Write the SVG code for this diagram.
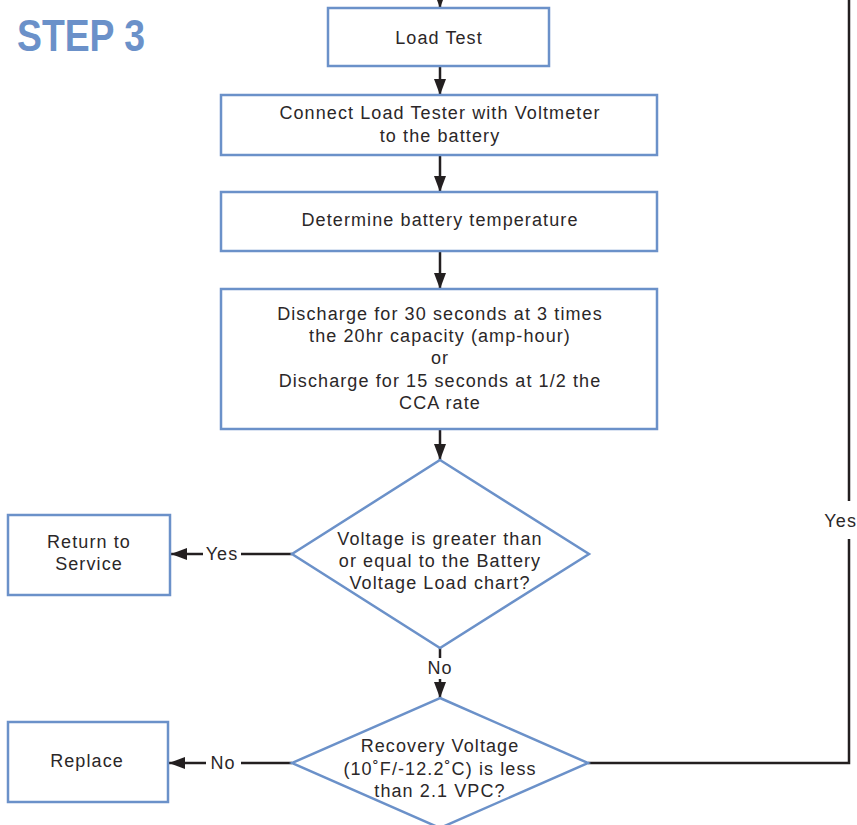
<svg xmlns="http://www.w3.org/2000/svg" width="857" height="825" viewBox="0 0 857 825">
<style>
.box{fill:#fff;stroke:#6b91c9;stroke-width:2.5}
.t{font-family:"Liberation Sans",Arial,sans-serif;font-size:18px;letter-spacing:1.1px;fill:#2b2728;text-anchor:middle}
.c{fill:none;stroke:#231f20;stroke-width:2.5}
.title{font-family:"Liberation Sans",Arial,sans-serif;font-size:45px;font-weight:bold;fill:#6b91c9}
</style>
<defs>
<marker id="a" viewBox="0 0 16 12" refX="16" refY="6" markerWidth="16" markerHeight="12" markerUnits="userSpaceOnUse" orient="auto">
<path d="M0,0 L16,6 L0,12 Z" fill="#231f20"/>
</marker>
</defs>
<text class="title" x="17" y="51" textLength="128" lengthAdjust="spacingAndGlyphs">STEP 3</text>

<g id="connectors">
<path class="c" d="M440,0 V8" marker-end="url(#a)"/>
<path class="c" d="M440,66 V95" marker-end="url(#a)"/>
<path class="c" d="M440,155 V192" marker-end="url(#a)"/>
<path class="c" d="M440,251 V289" marker-end="url(#a)"/>
<path class="c" d="M440,429 V460" marker-end="url(#a)"/>
<path class="c" d="M440,648 V658"/>
<path class="c" d="M440,679 V698" marker-end="url(#a)"/>
<text class="t" x="440" y="674">No</text>
<path class="c" d="M292,554 H241"/>
<path class="c" d="M203,554 H171" marker-end="url(#a)"/>
<text class="t" x="222" y="560">Yes</text>
<path class="c" d="M292,763 H241"/>
<path class="c" d="M206,763 H169" marker-end="url(#a)"/>
<text class="t" x="223" y="769">No</text>
<path class="c" d="M588,763 H849 V539"/>
<path class="c" d="M849,501 V0"/>
<text class="t" x="857" y="527" style="text-anchor:end">Yes</text>
</g>

<g id="load-test">
<rect class="box" x="328" y="8" width="221" height="58"/>
<text class="t" x="439" y="44">Load Test</text>
</g>
<g id="connect">
<rect class="box" x="221" y="95" width="436" height="60"/>
<text class="t" x="440" y="119">Connect Load Tester with Voltmeter</text>
<text class="t" x="440" y="142">to the battery</text>
</g>
<g id="determine">
<rect class="box" x="221" y="192" width="436" height="59"/>
<text class="t" x="440" y="226">Determine battery temperature</text>
</g>
<g id="discharge">
<rect class="box" x="221" y="289" width="436" height="140"/>
<text class="t" x="440" y="320">Discharge for 30 seconds at 3 times</text>
<text class="t" x="440" y="342">the 20hr capacity (amp-hour)</text>
<text class="t" x="440" y="364">or</text>
<text class="t" x="440" y="387">Discharge for 15 seconds at 1/2 the</text>
<text class="t" x="440" y="409">CCA rate</text>
</g>
<g id="decision-voltage">
<polygon class="box" points="440,460 589,554 440,648 292,554"/>
<text class="t" x="440" y="545">Voltage is greater than</text>
<text class="t" x="440" y="567">or equal to the Battery</text>
<text class="t" x="440" y="589">Voltage Load chart?</text>
</g>
<g id="return-to-service">
<rect class="box" x="8" y="515" width="162" height="80"/>
<text class="t" x="89" y="548">Return to</text>
<text class="t" x="89" y="570">Service</text>
</g>
<g id="decision-recovery">
<polygon class="box" points="440,698 588,763 440,828 292,763"/>
<text class="t" x="440" y="752">Recovery Voltage</text>
<text class="t" x="440" y="775">(10˚F/-12.2˚C) is less</text>
<text class="t" x="440" y="797">than 2.1 VPC?</text>
</g>
<g id="replace">
<rect class="box" x="8" y="722" width="160" height="80"/>
<text class="t" x="87" y="767">Replace</text>
</g>
</svg>
